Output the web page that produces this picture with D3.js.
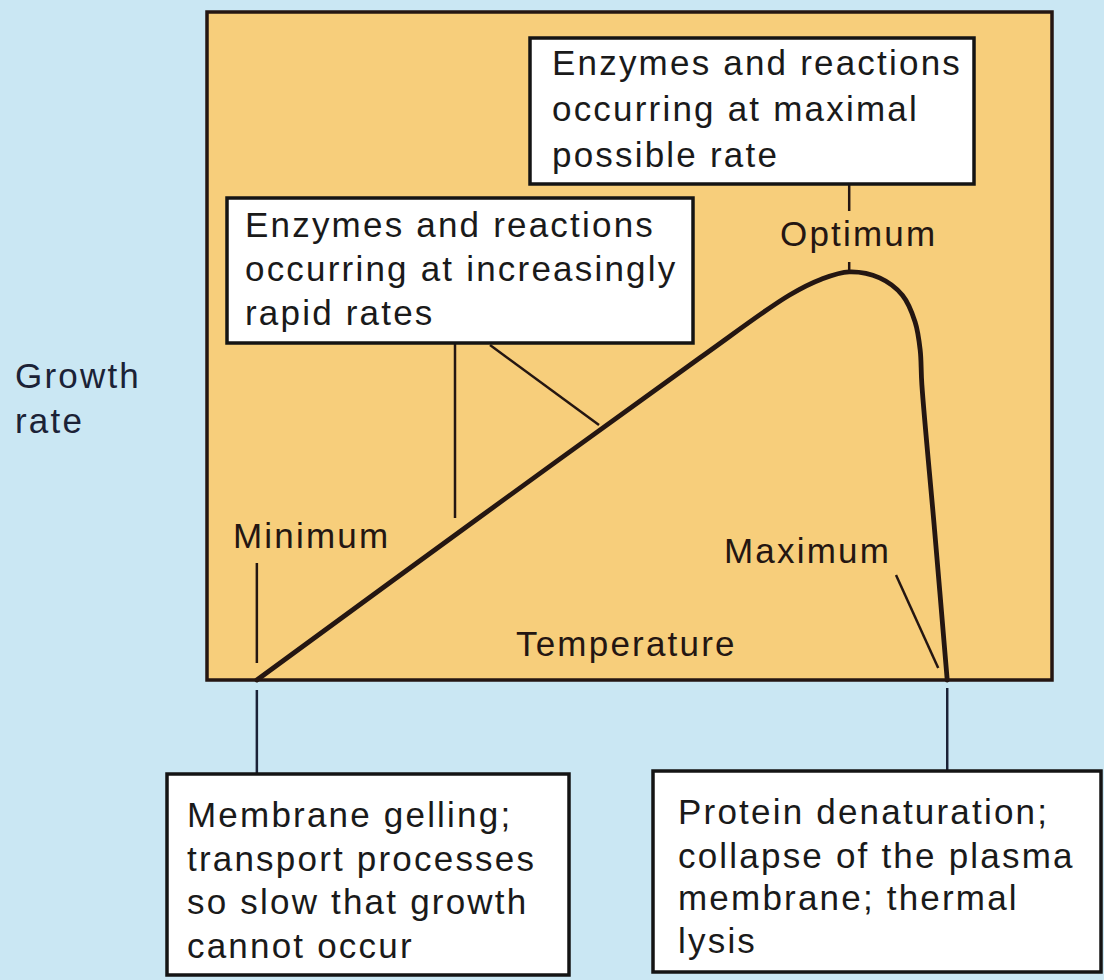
<!DOCTYPE html>
<html>
<head>
<meta charset="utf-8">
<script src="https://cdn.jsdelivr.net/npm/d3@7"></script>
<style>
  html, body { margin: 0; padding: 0; background: #cae7f3; }
  svg { display: block; }
  text { font-family: "Liberation Sans", Arial, Helvetica, sans-serif; }
</style>
</head>
<body>
<svg id="chart" width="1104" height="980"></svg>
<script>
// ---- Data (temperature / growth-rate in arbitrary units, 0-100) ----
const curveTemp = [5.9, 32.3, 58.3, 68.9, 72.7, 76.0, 79.6, 82.3, 83.8, 84.4, 84.6, 86.1, 87.6];
const curveRate = [0.0, 24.4, 48.2, 57.6, 60.0, 61.1, 60.2, 57.6, 53.6, 49.4, 44.2, 22.5, 0.0];

const cardinalNames = ["Minimum", "Optimum", "Maximum"];
const cardinalTemps = [5.9, 76.0, 87.6];

const axisLabelX = ["Temperature"];
const axisLabelY = ["Growth", "rate"];

const noteRising = ["Enzymes and reactions", "occurring at increasingly", "rapid rates"];
const noteOptimum = ["Enzymes and reactions", "occurring at maximal", "possible rate"];
const noteMinimum = ["Membrane gelling;", "transport processes", "so slow that growth", "cannot occur"];
const noteMaximum = ["Protein denaturation;", "collapse of the plasma", "membrane; thermal", "lysis"];

// ---- Layout ----
const W = 1104, H = 980;
const plot = { left: 207, right: 1052, top: 12, bottom: 680 };
const FS = 35, LS = 2.2;
const ink = "#241612", navy = "#1b2236";

const svg = d3.select("#chart");
svg.append("rect").attr("width", W).attr("height", H).attr("fill", "#cae7f3");

const x = d3.scaleLinear().domain([0, 100]).range([plot.left, plot.right]);
const y = d3.scaleLinear().domain([0, 100]).range([plot.bottom, plot.top]);

// plot area
svg.append("rect")
  .attr("x", plot.left).attr("y", plot.top)
  .attr("width", plot.right - plot.left).attr("height", plot.bottom - plot.top)
  .attr("fill", "#f7ce7b").attr("stroke", ink).attr("stroke-width", 3.5);

function textBlock(g, lines, x0, baselines, color) {
  lines.forEach((t, i) => {
    g.append("text").attr("x", x0).attr("y", baselines[i])
      .attr("font-size", FS).attr("letter-spacing", LS)
      .attr("fill", color).text(t);
  });
}

function noteBox(lines, bx, by, bw, bh, tx, baselines) {
  const g = svg.append("g");
  g.append("rect").attr("x", bx).attr("y", by).attr("width", bw).attr("height", bh)
    .attr("fill", "#ffffff").attr("stroke", "#141414").attr("stroke-width", 3.5);
  textBlock(g, lines, tx, baselines, "#1a1a1a");
}

const line = (x1, y1, x2, y2, color, w) =>
  svg.append("line").attr("x1", x1).attr("y1", y1).attr("x2", x2).attr("y2", y2)
    .attr("stroke", color).attr("stroke-width", w).attr("stroke-linecap", "butt");

// ---- Annotation leader lines inside plot ----
const xMin = x(cardinalTemps[0]), xOpt = x(cardinalTemps[1]), xMax = x(cardinalTemps[2]);
const peakRate = d3.max(curveRate);

// minimum tick
line(xMin, 563, xMin, 663, ink, 2.5);
// optimum ticks
line(xOpt, 184, xOpt, 211, ink, 2.5);
line(xOpt, 262, xOpt, y(peakRate), ink, 2.5);
// maximum pointer
line(896, 575, xMax - 9, 668, ink, 2.5);
// rising-phase pointers
line(455, 343, 455, 518, ink, 2.5);
line(490, 345, 599, 425, ink, 2.5);

// ---- Growth curve ----
const pts = curveTemp.map((t, i) => [t, curveRate[i]]);
svg.append("path")
  .datum(pts)
  .attr("d", d3.line().x(d => x(d[0])).y(d => y(d[1])).curve(d3.curveCatmullRom.alpha(0.5)))
  .attr("fill", "none").attr("stroke", ink).attr("stroke-width", 4.8)
  .attr("stroke-linejoin", "round").attr("stroke-linecap", "round");

// ---- Labels inside plot ----
svg.append("text").attr("x", 233).attr("y", 548).attr("font-size", FS).attr("letter-spacing", LS)
  .attr("fill", ink).text(cardinalNames[0]);
svg.append("text").attr("x", 780).attr("y", 246).attr("font-size", FS).attr("letter-spacing", LS)
  .attr("fill", ink).text(cardinalNames[1]);
svg.append("text").attr("x", 724).attr("y", 563).attr("font-size", FS).attr("letter-spacing", LS)
  .attr("fill", ink).text(cardinalNames[2]);
svg.append("text").attr("x", 516).attr("y", 656).attr("font-size", FS).attr("letter-spacing", LS)
  .attr("fill", ink).text(axisLabelX[0]);

// y axis label
textBlock(svg, axisLabelY, 15, [388, 433], navy);

// ---- Note boxes ----
noteBox(noteRising, 227, 198, 466, 145, 245, [237, 281, 325]);
noteBox(noteOptimum, 530, 38, 444, 146, 552, [75, 121, 167]);

// connectors below plot
line(xMin, 690, xMin, 774, navy, 2.5);
line(xMax, 688, xMax, 771, navy, 2.5);

noteBox(noteMinimum, 167, 774, 402, 201, 187, [827, 871, 914, 958]);
noteBox(noteMaximum, 653, 771, 448, 201, 678, [824, 868, 910, 953]);
</script>
</body>
</html>
